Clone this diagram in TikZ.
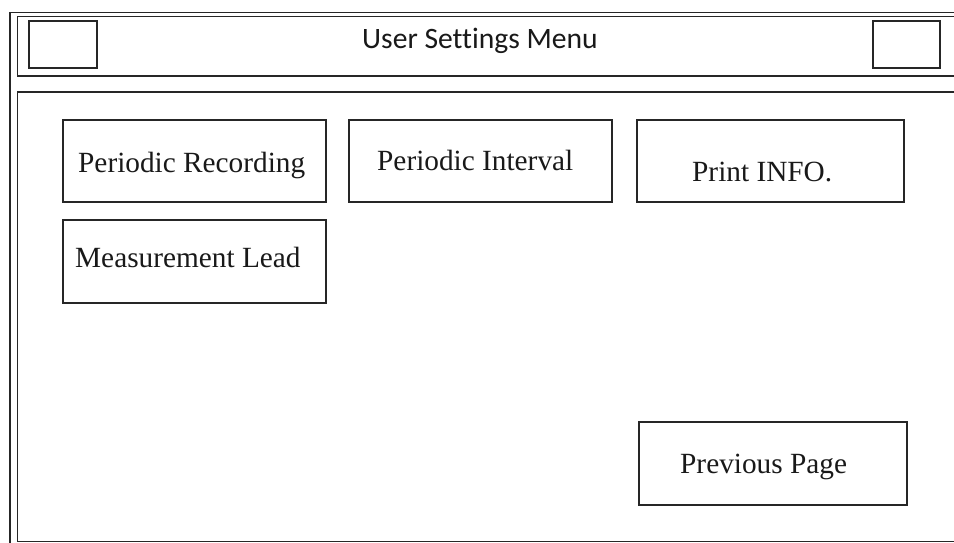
\documentclass[tikz,border=0pt]{standalone}
\usepackage{fontspec}
\setmainfont{Liberation Serif}
\newfontfamily\titlefont[Ligatures={NoCommon}]{Carlito}
\begin{document}
\begin{tikzpicture}[x=1pt,y=-1pt,
  frame/.style={draw=black!85,line width=1.6pt},
  btn/.style={draw=black!85,line width=1.6pt,rectangle,inner sep=0pt},
  lbl/.style={anchor=base west,inner sep=0pt,font=\fontsize{29.3}{32}\selectfont,text=black!90}]
\useasboundingbox (0,0) rectangle (954,542);
\clip (0,0) rectangle (954,542);
\fill[white] (0,0) rectangle (954,542);
% outer frame and panels
\draw[frame] (10,12.5) rectangle (970,560);
\draw[frame] (17.5,16.5) rectangle (970,76);
\draw[frame] (17.5,92) rectangle (970,541.5);
% title bar boxes
\node[btn,minimum width=68,minimum height=47] (lbox) at (63,44.5) {};
\node[btn,minimum width=67,minimum height=47] (rbox) at (906.5,44.5) {};
\node[anchor=base west,inner sep=0pt,font=\titlefont\fontsize{29.6}{32}\selectfont,text=black!90] (title) at (362,48) {User Settings Menu};
% buttons
\node[btn,minimum width=263,minimum height=82] (pr) at (194.5,161) {};
\node[lbl] (prt) at (78,172) {Periodic Recording};
\node[btn,minimum width=263,minimum height=82] (pi) at (480.5,161) {};
\node[lbl] (pit) at (377,170) {Periodic Interval};
\node[btn,minimum width=267,minimum height=82] (pn) at (770.5,161) {};
\node[lbl] (pnt) at (692,181) {Print INFO.};
\node[btn,minimum width=263,minimum height=83] (ml) at (194.5,261.5) {};
\node[lbl] (mlt) at (75,267) {Measurement Lead};
\node[btn,minimum width=268,minimum height=83] (pp) at (773,463.5) {};
\node[lbl] (ppt) at (680,473) {Previous Page};
\end{tikzpicture}
\end{document}
